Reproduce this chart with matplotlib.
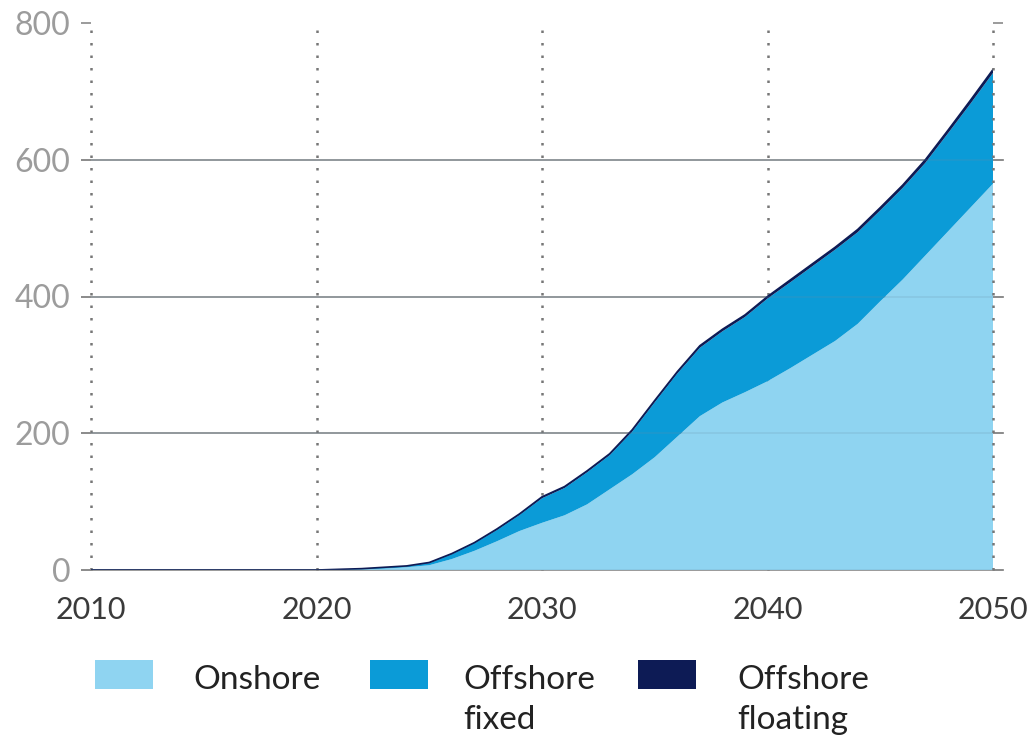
import matplotlib.pyplot as plt
from matplotlib.patches import Rectangle
import numpy as np

# Installed capacity by year
years = list(range(2010, 2051))
onshore = [0] * 11 + [0.5, 1, 2, 4, 7, 16, 28, 42, 57, 69, 80, 96, 118, 140, 165,
                      195, 225, 245, 260, 276, 295, 315, 335, 360, 393, 425, 460,
                      495, 530, 565]
offshore_fixed = [0] * 11 + [0.5, 1, 1.5, 1.5, 3, 7, 11, 16.5, 23.5, 36, 40, 47, 50,
                             62.5, 80.5, 92.5, 100, 104, 110, 121, 125.5, 129.5,
                             133.5, 134, 133, 134, 135.5, 143.5, 152, 162]
offshore_floating = [0] * 11 + [0, 0, 0.5, 0.5, 1, 1, 1, 1.5, 1.5, 2, 2, 2, 2, 2.5,
                                2.5, 2.5, 3, 3, 3, 3, 3.5, 3.5, 3.5, 4, 4, 4, 4.5,
                                4.5, 5, 5]

labels = ["Onshore", "Offshore\nfixed", "Offshore\nfloating"]
colors = ["#8fd4f1", "#0b9bd7", "#0d1b55"]
xticks = [2010, 2020, 2030, 2040, 2050]
yticks = [0, 200, 400, 600, 800]

plt.rcParams['font.family'] = ['Lato', 'DejaVu Sans']

W, H = 1036, 735
fig = plt.figure(figsize=(W / 100, H / 100), dpi=100)
ax = fig.add_axes([91 / W, 1 - 570 / H, (993 - 91) / W, (570 - 23) / H])

x = np.array(years)
ax.stackplot(x, onshore, offshore_fixed, offshore_floating, colors=colors,
             linewidth=0, zorder=2)
top = np.array(onshore) + np.array(offshore_fixed) + np.array(offshore_floating)
ax.plot(x, top, color=colors[2], lw=1.2, zorder=3)

ax.set_xlim(2010, 2050)
ax.set_ylim(0, 800)

# horizontal gridlines, a little wider than the plot
for y in yticks[:-1]:
    ax.axhline(y, xmin=-0.01, xmax=1.011, color="#9a9a9a", lw=1.4, zorder=1,
               clip_on=False)
    ax.axhline(y, xmin=0, xmax=1, color="#6a8ea5", lw=1.2, alpha=0.2, zorder=4)
# dotted vertical gridlines
for xv in xticks:
    ax.plot([xv, xv], [0, 800], color="#777777", lw=1.8, ls=(0, (1, 4)),
            zorder=5 if xv == 2050 else 1, clip_on=False)

for s in ax.spines.values():
    s.set_visible(False)

ax.set_xticks(xticks)
ax.set_yticks(yticks)
ax.tick_params(axis='x', length=0, pad=19, labelsize=22, labelcolor="#3a3a3a")
ax.tick_params(axis='y', left=True, right=True, length=7, width=1.2,
               color="#8a8a8a", pad=8, labelsize=23, labelcolor="#9c9c9c")

# legend drawn by hand: swatch + text (first line level with swatch)
leg_x = [95, 370, 638]
txt_x = [193, 463, 737]
for lx, tx, lab, c in zip(leg_x, txt_x, labels, colors):
    fig.add_artist(Rectangle((lx / W, 1 - 689 / H), 58 / W, 29 / H,
                             transform=fig.transFigure, color=c, lw=0))
    fig.text(tx / W, 1 - 665 / H, lab, fontsize=24, color="#222222",
             va='top', ha='left', linespacing=1.4)

plt.savefig("out.png", dpi=100)
